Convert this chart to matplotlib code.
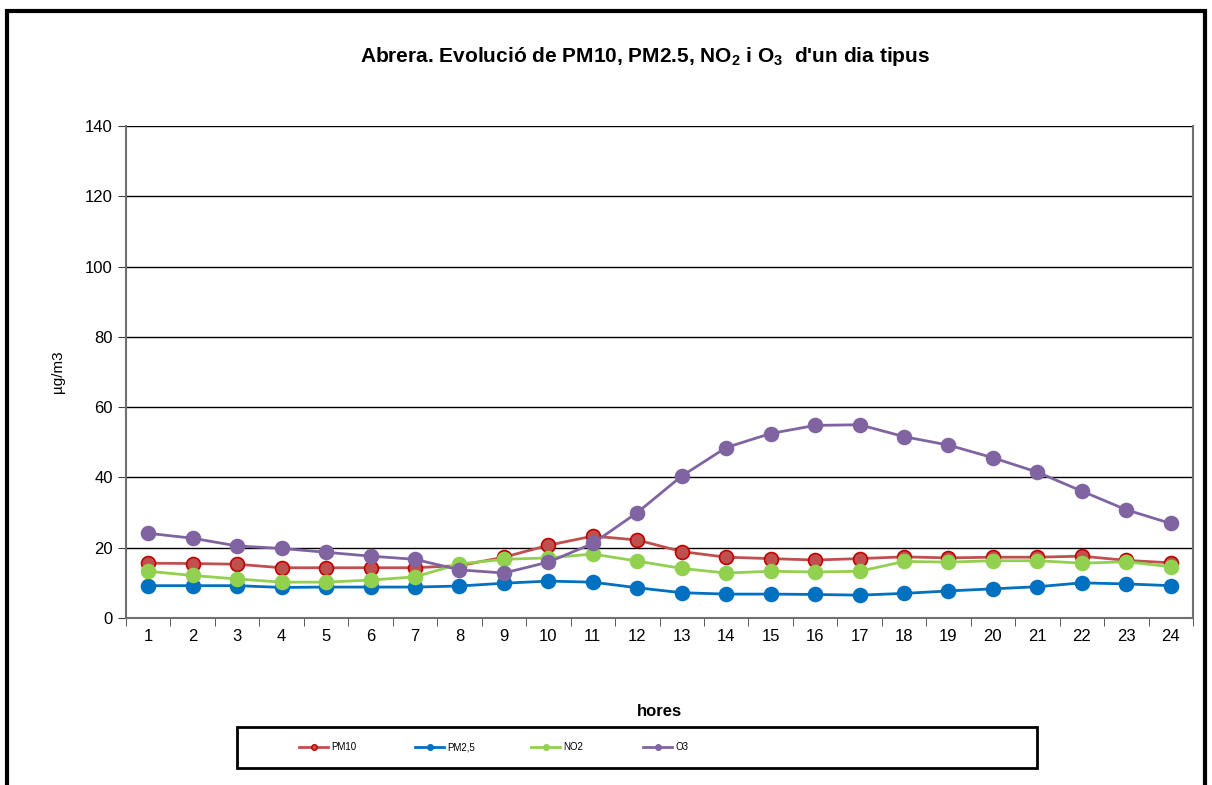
import matplotlib
matplotlib.use("Agg")
import matplotlib.pyplot as plt
from matplotlib.lines import Line2D
from matplotlib.patches import Rectangle

plt.rcParams['font.family'] = ['Liberation Sans', 'DejaVu Sans']
plt.rcParams['mathtext.default'] = 'regular'

# hourly values (µg/m3)
hours = list(range(1, 25))
pm10 = [15.6, 15.5, 15.3, 14.3, 14.3, 14.3, 14.3, 14.9, 17.3, 20.7, 23.3, 22.2,
        18.9, 17.3, 16.9, 16.5, 16.9, 17.4, 17.1, 17.3, 17.3, 17.6, 16.4, 15.7]
pm25 = [9.2, 9.2, 9.2, 8.7, 8.8, 8.8, 8.8, 9.1, 9.9, 10.5, 10.2, 8.6,
        7.2, 6.8, 6.8, 6.7, 6.5, 7.0, 7.7, 8.3, 8.9, 10.0, 9.7, 9.2]
no2 = [13.3, 12.1, 11.1, 10.2, 10.2, 10.8, 11.7, 15.4, 16.7, 17.1, 18.2, 16.2,
       14.1, 12.8, 13.3, 13.1, 13.3, 16.1, 15.9, 16.3, 16.3, 15.6, 16.0, 14.6]
o3 = [24.1, 22.7, 20.5, 19.8, 18.7, 17.6, 16.7, 13.7, 12.8, 15.9, 21.2, 30.0,
      40.4, 48.5, 52.5, 54.8, 55.0, 51.6, 49.2, 45.6, 41.5, 36.1, 30.8, 26.9]

labels = ["PM10", "PM2,5", "NO2", "O3"]
series = [pm10, pm25, no2, o3]
colors = ['#C0504D', '#0070C0', '#92D050', '#8064A2']
edges = ['#C00000', '#0070C0', '#92D050', '#8064A2']

fig = plt.figure(figsize=(12.12, 7.85), dpi=100)
ax = fig.add_axes([126/1212, 1-618/785, (1193-126)/1212, (618-126)/785])

for vals, c, e in zip(series, colors, edges):
    ax.plot(hours, vals, color=c, lw=2.0, marker='o', markersize=10,
            markerfacecolor=c, markeredgecolor=e, markeredgewidth=1.2)

ax.set_xlim(0.5, 24.5)
ax.set_ylim(0, 140)
ax.set_yticks(range(0, 141, 20))
ax.set_xticks(hours)
ax.set_xticks([h + 0.5 for h in range(0, 25)], minor=True)
ax.tick_params(axis='x', which='major', length=0, labelsize=12, pad=8)
ax.tick_params(axis='x', which='minor', length=6, color='#404040', direction='out')
ax.tick_params(axis='y', length=6, color='#404040', labelsize=12)
ax.yaxis.grid(True, color='black', lw=1)
ax.set_axisbelow(True)
for s in ['left', 'bottom', 'right']:
    ax.spines[s].set_color('#707070')
    ax.spines[s].set_linewidth(1.5)
ax.spines['top'].set_visible(False)
ax.set_ylabel("µg/m3", fontsize=11, labelpad=14)

fig.text(645/1212, 1-57/785, "Abrera. Evolució de PM10, PM2.5, NO$_2$ i O$_3$  d'un dia tipus",
         ha='center', va='center', fontsize=15, fontweight='bold')
fig.text(659/1212, 1-712/785, "hores", ha='center', va='center', fontsize=12, fontweight='bold')

# legend box and entries
fig.patches.append(Rectangle((237/1212, 1-768/785), 800/1212, 41/785, transform=fig.transFigure,
                             fill=False, edgecolor='black', lw=2))
entry_x = [299, 415, 531, 643]
for lab, c, e, x in zip(labels, colors, edges, entry_x):
    h = Line2D([], [], color=c, lw=2, marker='o', markersize=4,
               markerfacecolor=c, markeredgecolor=e)
    fig.legend([h], [lab], frameon=False, loc='center left',
               bbox_to_anchor=(x/1212, 1-747/785), fontsize=7, handlelength=3,
               handletextpad=0.3, borderpad=0, borderaxespad=0)

# outer chart border
fig.patches.append(Rectangle((7/1212, -0.05), 1198/1212, 1.05-11/785, transform=fig.transFigure,
                             fill=False, edgecolor='black', lw=3))

fig.savefig("out.png", dpi=100)
